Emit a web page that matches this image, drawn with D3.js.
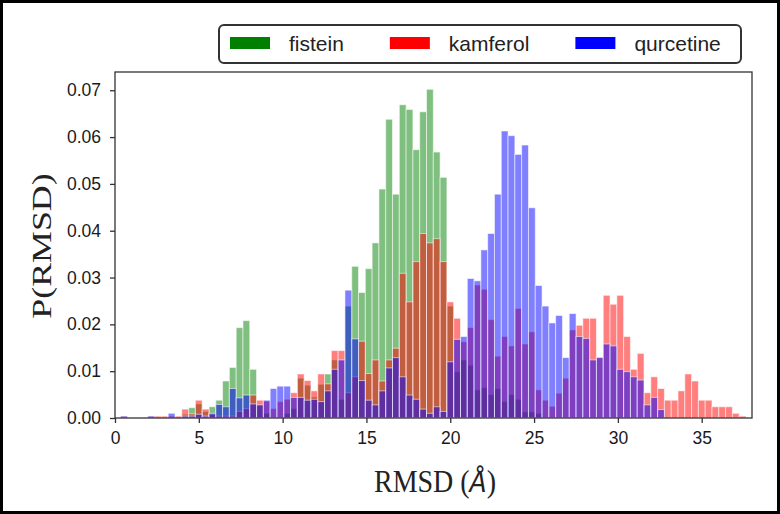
<!DOCTYPE html>
<html lang="en">
<head>
<meta charset="UTF-8"/>
<title>P(RMSD) histogram</title>
<script src="https://d3js.org/d3.v7.min.js"></script>
<style>
	body { margin: 0; background: #fff; }
	svg { display: block; }
</style>
</head>
<body>
<script>
var w = 780;
var h = 514;

// histogram bins (RMSD in Angstrom), shared by the three series
var binStart = 0.335;
var binWidth = 0.4055;

// probability per bin
var fistein = [
	0, 0, 0, 0, 0, 0.0002, 0, 0, 0.0002, 0.0008,
	0.0022, 0.003, 0.0014, 0.0024, 0.0038, 0.0079, 0.0108, 0.0193, 0.0208, 0.0104,
	0.0028, 0.001, 0, 0, 0.001, 0.002, 0.0085, 0.007, 0.0045, 0.0072,
	0.0094, 0.0124, 0.004, 0.0239, 0.0324, 0.0268, 0.0319, 0.0374, 0.0489, 0.0638,
	0.0478, 0.0669, 0.0659, 0.0573, 0.0654, 0.0702, 0.0568, 0.0514, 0.0239, 0.0099,
	0.0124, 0.0113, 0.006, 0.0065, 0.005, 0.0063, 0.0035, 0.005, 0.004, 0.0013,
	0.0013, 0.001, 0, 0, 0, 0, 0, 0, 0, 0,
	0, 0, 0, 0, 0, 0, 0, 0, 0, 0,
	0, 0, 0, 0, 0, 0, 0, 0, 0, 0,
	0, 0
];

var kamferol = [
	0.0004, 0, 0, 0, 0.0004, 0.0004, 0.0004, 0.0004, 0.0004, 0.0019,
	0.0009, 0.0038, 0.0019, 0.0008, 0.0004, 0.0004, 0.0004, 0.0014, 0.002, 0.0049,
	0.0038, 0.0036, 0.002, 0.0035, 0.004, 0.0054, 0.0094, 0.008, 0.0058, 0.0094,
	0.0073, 0.0144, 0.0144, 0.0054, 0.0088, 0.0164, 0.0095, 0.0124, 0.0079, 0.0124,
	0.0149, 0.0309, 0.0248, 0.0334, 0.0394, 0.0374, 0.0383, 0.0334, 0.0248, 0.0213,
	0.0163, 0.0193, 0.0284, 0.0275, 0.021, 0.0132, 0.0174, 0.0154, 0.0234, 0.0158,
	0.0184, 0.006, 0.0038, 0.0025, 0.0053, 0.0085, 0.0188, 0.0198, 0.0213, 0.0213,
	0.013, 0.0262, 0.0243, 0.0262, 0.0174, 0.0104, 0.0138, 0.0054, 0.0088, 0.0063,
	0.0038, 0.0038, 0.0058, 0.0094, 0.0079, 0.0038, 0.0038, 0.0024, 0.0024, 0.0024,
	0.001, 0.0004
];

var qurcetine = [
	0.0004, 0, 0, 0, 0.0004, 0, 0, 0.001, 0, 0.0004,
	0.0004, 0.0008, 0.0004, 0.001, 0.0029, 0.0024, 0.0063, 0.0043, 0.0049, 0.003,
	0.0028, 0.0038, 0.0063, 0.0068, 0.0068, 0.0044, 0.0044, 0.0038, 0.004, 0.0035,
	0.0058, 0.0104, 0.0124, 0.0273, 0.0169, 0.008, 0.0038, 0.0028, 0.0058, 0.0107,
	0.0129, 0.0088, 0.0049, 0.004, 0.0019, 0.001, 0.0024, 0.0014, 0.012, 0.0168,
	0.0174, 0.0298, 0.0293, 0.0359, 0.0394, 0.0478, 0.0613, 0.0603, 0.0563, 0.0583,
	0.0449, 0.0283, 0.0239, 0.0203, 0.0219, 0.0129, 0.0223, 0.0174, 0.017, 0.0124,
	0.0129, 0.0158, 0.0154, 0.0104, 0.0099, 0.0088, 0.0081, 0.0028, 0.0044, 0.0018,
	0, 0, 0, 0, 0, 0, 0, 0, 0, 0,
	0, 0
];

var seriesNames = ["fistein", "kamferol", "qurcetine"];
var seriesColors = ["#008000", "#ff0000", "#0000ff"];
var xTicks = [0, 5, 10, 15, 20, 25, 30, 35];
var yTicks = [0, 0.01, 0.02, 0.03, 0.04, 0.05, 0.06, 0.07];

// plot area
var plotLeft = 115, plotRight = 752, plotTop = 72, plotBottom = 418;

var xScale = d3.scaleLinear().domain([0, 38]).range([plotLeft, plotRight]);
var yScale = d3.scaleLinear().domain([0, 0.0739]).range([plotBottom, plotTop]);

var svg = d3.select("body")
	.append("svg")
	.attr("width", w)
	.attr("height", h);

svg.append("rect")
	.attr("width", w)
	.attr("height", h)
	.attr("fill", "#fff");

// bars, drawn in series order with alpha so overlaps mix
[fistein, kamferol, qurcetine].forEach(function(vals, s) {
	var bins = vals.map(function(v, i) { return {i: i, v: v}; })
		.filter(function(d) { return d.v > 0; });

	svg.append("g")
		.selectAll("rect")
		.data(bins)
		.enter()
		.append("rect")
		.attr("x", function(d) { return xScale(binStart + d.i * binWidth); })
		.attr("width", function(d) {
			return xScale(binStart + (d.i + 1) * binWidth) - xScale(binStart + d.i * binWidth);
		})
		.attr("y", function(d) { return yScale(d.v); })
		.attr("height", function(d) { return yScale(0) - yScale(d.v); })
		.attr("fill", seriesColors[s])
		.attr("fill-opacity", 0.5)
		.attr("stroke", "#fff")
		.attr("stroke-opacity", 0.55)
		.attr("stroke-width", 1);
});

// x axis
var xAxis = svg.append("g")
	.attr("transform", "translate(0," + plotBottom + ")")
	.call(d3.axisBottom(xScale).tickValues(xTicks).tickSize(5).tickPadding(9));

// y axis
var yAxis = svg.append("g")
	.attr("transform", "translate(" + plotLeft + ",0)")
	.call(d3.axisLeft(yScale).tickValues(yTicks).tickFormat(d3.format(".2f")).tickSize(5).tickPadding(9));

[xAxis, yAxis].forEach(function(ax) {
	ax.attr("font-family", null).attr("font-size", null);
	ax.select(".domain").remove();
	ax.selectAll("line").attr("stroke", "#333").attr("stroke-width", 1.3);
	ax.selectAll("text")
		.attr("fill", "#1a1a1a")
		.style("font-family", "'Liberation Sans', Arial, sans-serif")
		.style("font-size", "17.5px");
});

// spines
svg.append("rect")
	.attr("x", plotLeft)
	.attr("y", plotTop)
	.attr("width", plotRight - plotLeft)
	.attr("height", plotBottom - plotTop)
	.attr("fill", "none")
	.attr("stroke", "#333")
	.attr("stroke-width", 1.3);

// axis titles
svg.append("text")
	.attr("transform", "translate(41,246) scale(1,1.28) rotate(-90)")
	.attr("text-anchor", "middle")
	.attr("dy", "0.35em")
	.style("font-family", "'Liberation Serif', 'Times New Roman', serif")
	.style("font-size", "28px")
	.attr("fill", "#222")
	.text("P(RMSD)");

var xTitle = svg.append("text")
	.attr("transform", "translate(435,492) scale(1,1.14)")
	.attr("text-anchor", "middle")
	.style("font-family", "'Liberation Serif', 'Times New Roman', serif")
	.style("font-size", "28px")
	.attr("fill", "#222");
xTitle.append("tspan").text("RMSD (");
xTitle.append("tspan")
	.style("font-family", "'DejaVu Sans', sans-serif")
	.style("font-style", "italic")
	.style("font-size", "25px")
	.text("Å");
xTitle.append("tspan").text(")");

// legend
var legend = svg.append("g");
legend.append("rect")
	.attr("x", 219)
	.attr("y", 25)
	.attr("width", 522)
	.attr("height", 38)
	.attr("rx", 5)
	.attr("fill", "#fff")
	.attr("stroke", "#333")
	.attr("stroke-width", 2);

var lx = 230;
seriesNames.forEach(function(name, i) {
	legend.append("rect")
		.attr("x", lx)
		.attr("y", 37)
		.attr("width", 40)
		.attr("height", 12)
		.attr("fill", seriesColors[i]);
	var t = legend.append("text")
		.attr("x", lx + 59)
		.attr("y", 51)
		.style("font-family", "'Liberation Sans', Arial, sans-serif")
		.style("font-size", "21px")
		.attr("fill", "#222")
		.text(name);
	lx = lx + 59 + t.node().getComputedTextLength() + 46;
});

// figure frame
svg.append("rect")
	.attr("x", 1.5)
	.attr("y", 1.5)
	.attr("width", w - 3)
	.attr("height", h - 3)
	.attr("fill", "none")
	.attr("stroke", "#000")
	.attr("stroke-width", 3);
</script>
</body>
</html>
